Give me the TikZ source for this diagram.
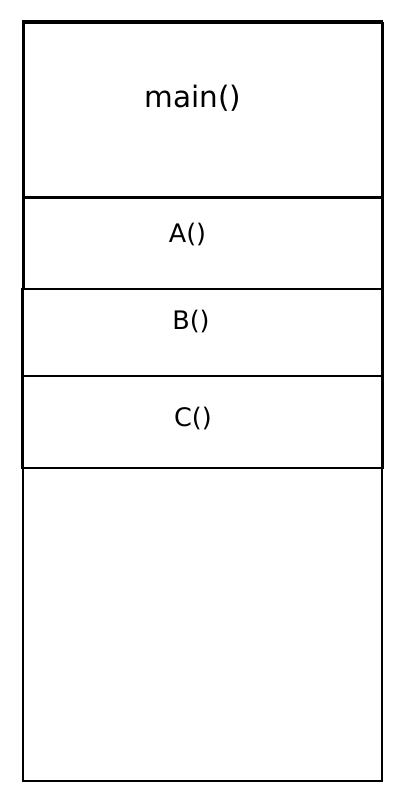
\documentclass[tikz,border=0pt]{standalone}
\usepackage{fontspec}
\setmainfont{DejaVu Sans}
\begin{document}
\begin{tikzpicture}[x=1pt,y=-1pt,
  frame/.style={draw=black,line width=2.4pt},
  lbl/.style={inner sep=0pt,font=\fontsize{25.5}{30}\selectfont},
  bigl/.style={inner sep=0pt,font=\fontsize{29.5}{34}\selectfont}]
\useasboundingbox[fill=white] (0,0) rectangle (400,800);
\draw[frame] (22.8,21) rectangle (382,781);
\node[frame,inner sep=0pt,anchor=north west,minimum width=359.2pt,minimum height=175pt] (mainbox) at (22.8,21.8) {};
\node[frame,inner sep=0pt,anchor=north west,minimum width=359.2pt,minimum height=92pt] (abox) at (22.8,196) {};
\node[frame,inner sep=0pt,anchor=north west,minimum width=361pt,minimum height=87pt] (bbox) at (21,288) {};
\node[frame,inner sep=0pt,anchor=north west,minimum width=361pt,minimum height=92pt] (cbox) at (21,375) {};
\node[bigl] (mt) at (193,98) {main()};
\node[lbl] (at) at (187.5,235) {A()};
\node[lbl] (bt) at (191,321.5) {B()};
\node[lbl] (ct) at (193,418.5) {C()};
\end{tikzpicture}
\end{document}
